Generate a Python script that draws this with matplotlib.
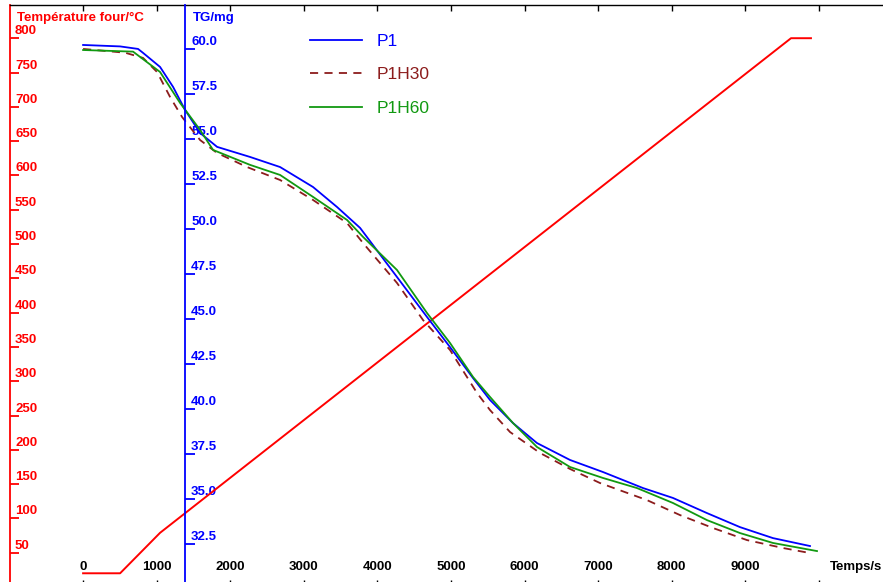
import matplotlib
matplotlib.use("Agg")
import matplotlib.pyplot as plt
from matplotlib.transforms import offset_copy

# figure is 883x582 px, everything below placed in pixel terms
W, H = 883, 582
NARROW = ['Liberation Sans Narrow', 'Liberation Sans', 'DejaVu Sans']
plt.rcParams['font.family'] = ['Liberation Sans', 'DejaVu Sans']

# furnace temperature (C) vs time (s)
temp_t = [0, 503, 1046, 9620, 9891]
temp_T = [20, 20, 79, 800, 800]

# TG curves (mg)
p1_t = [0, 503, 747, 815, 1046, 1223, 1386, 1590, 1821, 2269, 2677, 3125, 3451,
        3764, 4266, 4674, 4986, 5299, 5530, 5842, 6168, 6617, 7065, 7609, 8016,
        8478, 8927, 9375, 9878]
p1_m = [60.22, 60.14, 60.0, 59.78, 59.0, 57.89, 56.61, 55.33, 54.56, 54.0, 53.44,
        52.33, 51.22, 50.06, 47.33, 45.11, 43.44, 41.72, 40.5, 39.22, 38.11, 37.17,
        36.5, 35.61, 35.06, 34.22, 33.44, 32.83, 32.39]

p1h30_t = [0, 571, 815, 1005, 1182, 1345, 1590, 1821, 2228, 2677, 3125, 3587, 3804,
           4266, 4620, 4986, 5353, 5530, 5802, 6209, 6617, 7024, 7663, 8111, 8560,
           9022, 9511, 9878]
p1h30_m = [60.0, 59.79, 59.5, 58.72, 57.33, 56.22, 54.94, 54.22, 53.44, 52.72, 51.61,
           50.33, 49.22, 47.0, 44.94, 43.28, 40.89, 39.94, 38.72, 37.56, 36.67, 35.89,
           34.94, 34.11, 33.39, 32.72, 32.28, 32.0]

p1h60_t = [0, 679, 1046, 1318, 1590, 1766, 2269, 2677, 3125, 3587, 3804, 4266, 4674,
           4986, 5299, 5530, 5842, 6168, 6617, 7065, 7527, 8016, 8478, 8927, 9375, 9973]
p1h60_m = [59.94, 59.85, 58.72, 57.0, 55.5, 54.39, 53.56, 53.0, 51.78, 50.5, 49.56,
           47.72, 45.33, 43.67, 41.78, 40.67, 39.22, 37.89, 36.78, 36.17, 35.61, 34.78,
           33.83, 33.11, 32.56, 32.11]

x_ticks = list(range(0, 10001, 1000))
x_labels = [str(v) for v in range(0, 9001, 1000)] + ['']
temp_ticks = list(range(50, 801, 50))
tg_ticks = [32.5, 35.0, 37.5, 40.0, 42.5, 45.0, 47.5, 50.0, 52.5, 55.0, 57.5, 60.0]
tg_axis_at = 1386

RED = '#ff0000'
BLUE = '#0000ff'
DRED = '#8c1c1c'
GREEN = '#119911'

fig = plt.figure(figsize=(W / 100, H / 100), dpi=100)
left, right, top, bottom = 9.5, 883, 5, 586
ax = fig.add_axes([left / W, (H - bottom) / H, (right - left) / W, (bottom - top) / H])
ax.set_xlim(-1000, 10870)
ax.set_ylim(1.46, 848.4)

ax.plot(temp_t, temp_T, color=RED, lw=1.4, zorder=2)

ax.spines['right'].set_visible(False)
ax.spines['left'].set_color(RED)
ax.spines['left'].set_linewidth(1.3)
ax.spines['top'].set_linewidth(1.0)

ax.set_xticks(x_ticks)
ax.set_xticklabels(x_labels)
ax.tick_params(axis='x', which='both', direction='in', top=True, bottom=True,
               length=4.5, width=1.0, pad=-18, labelsize=9.5)
for lab in ax.get_xticklabels():
    lab.set_fontweight('bold')
    lab.set_family(NARROW)
ax.set_yticks(temp_ticks)
ax.tick_params(axis='y', direction='in', length=6.5, width=1.3, color=RED, labelleft=False)

# temperature tick labels sit right of the spine, above each tick
tr = offset_copy(ax.get_yaxis_transform(), fig=fig, x=5.5, y=4, units='dots')
for v in temp_ticks:
    ax.text(0, v, str(v), transform=tr, color=RED, fontsize=9.5, fontweight='bold',
            family=NARROW, ha='left', va='baseline')

ax2 = ax.twinx()
ax2.set_ylim(30.17, 62.44)
for s in ['right', 'top', 'bottom']:
    ax2.spines[s].set_visible(False)
ax2.spines['left'].set_visible(True)
ax2.spines['left'].set_position(('data', tg_axis_at))
ax2.spines['left'].set_color(BLUE)
ax2.spines['left'].set_linewidth(1.3)
ax2.yaxis.set_ticks_position('left')
ax2.set_yticks(tg_ticks)
ax2.tick_params(axis='y', direction='in', length=7, width=1.3, color=BLUE,
                labelleft=False, labelright=False)

tb = offset_copy(ax2.transData, fig=fig, x=6, y=4, units='dots')
for v in tg_ticks:
    ax.text(tg_axis_at, v, '%.1f' % v, transform=tb, color=BLUE, fontsize=9.5,
            fontweight='bold', family=NARROW, ha='left', va='baseline', zorder=1)

l1, = ax2.plot(p1_t, p1_m, color=BLUE, lw=1.3, label='P1')
l2, = ax2.plot(p1h30_t, p1h30_m, color=DRED, lw=1.3, ls=(0, (4.5, 3.5)), label='P1H30')
l3, = ax2.plot(p1h60_t, p1h60_m, color=GREEN, lw=1.3, label='P1H60')

leg = ax2.legend(handles=[l1, l2, l3], loc='upper left', frameon=False,
                 bbox_to_anchor=(301 / W, 1 - 25 / H), bbox_transform=fig.transFigure,
                 fontsize=12.5, handlelength=3.0, handletextpad=0.85,
                 labelspacing=1.05, borderpad=0, labelcolor='linecolor')

# axis titles
fig.text(17 / W, 1 - 18 / H, 'Température four/°C', color=RED, fontsize=9.5,
         fontweight='bold', family=NARROW, ha='left', va='center')
fig.text(193 / W, 1 - 18 / H, 'TG/mg', color=BLUE, fontsize=9.5,
         fontweight='bold', family=NARROW, ha='left', va='center')
fig.text(830 / W, 1 - 567 / H, 'Temps/s', color='black', fontsize=9.5,
         fontweight='bold', family=NARROW, ha='left', va='center')

fig.savefig('out.png', dpi=100)
